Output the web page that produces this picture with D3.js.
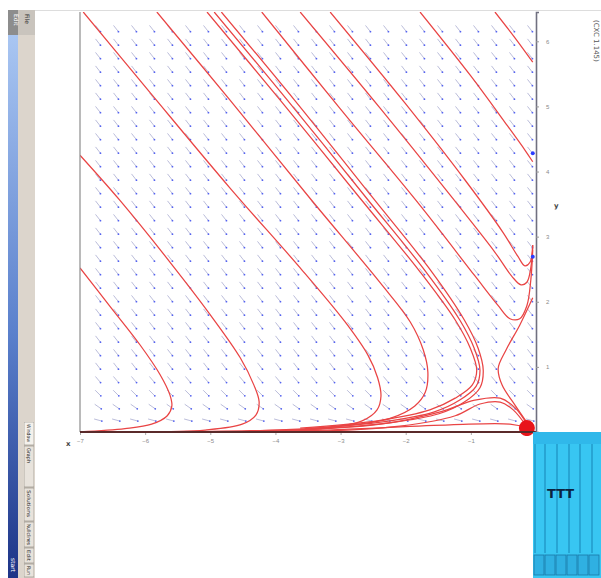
<!DOCTYPE html>
<html>
<head>
<meta charset="utf-8">
<script src="https://cdn.jsdelivr.net/npm/d3@7/dist/d3.min.js"></script>
<style>
  html, body { margin: 0; padding: 0; background: #fff; }
  svg { display: block; font-family: "DejaVu Sans", Arial, sans-serif; }
</style>
</head>
<body>
<div id="chart"></div>
<script>
// ---- phase-plane data ----
const xTicks = [-7, -6, -5, -4, -3, -2, -1];
const yTicks = [1, 2, 3, 4, 5, 6];

// direction-field grid (column / row centres) and the slope angle of each row, bottom row first
const fieldCols = d3.range(-6.724, 0, 0.2763);
const fieldRows = d3.range(0.184, 6.4, 0.2073);
const rowAngles = [15, 35, 45, 50, 52, 52, 52, 52, 52, 52, 52, 52, 52, 52, 52,
                   52, 52, 52, 52, 52, 52, 52, 52, 52, 52, 52, 52, 52, 52, 52, 52];

// solution curves [x, y]
const trajA = [[-7.00,2.52],[-6.54,1.93],[-6.08,1.34],[-5.77,0.88],[-5.62,0.57],[-5.59,0.40],[-5.66,0.25],[-5.90,0.12],[-6.31,0.05],[-7.00,0.00]];
const trajB = [[-7.00,4.25],[-6.39,3.56],[-5.62,2.61],[-5.00,1.80],[-4.54,1.14],[-4.33,0.72],[-4.25,0.46],[-4.30,0.26],[-4.51,0.12],[-5.08,0.03],[-6.08,0.00]];
const trajC = [[-6.95,6.45],[-5.93,5.22],[-4.70,3.75],[-3.62,2.52],[-2.93,1.69],[-2.58,1.18],[-2.43,0.83],[-2.38,0.55],[-2.44,0.34],[-2.67,0.17],[-3.24,0.06],[-4.39,0.02],[-5.93,0.00]];
const trajD = [[-5.82,6.45],[-4.70,5.10],[-3.47,3.59],[-2.39,2.29],[-1.93,1.69],[-1.73,1.26],[-1.66,0.92],[-1.70,0.61],[-1.86,0.40],[-2.24,0.21],[-3.01,0.09],[-4.24,0.02]];
const trajE1 = [[-5.05,6.45],[-3.93,5.10],[-2.70,3.59],[-1.78,2.46],[-1.24,1.72],[-1.01,1.29],[-0.91,0.95],[-0.98,0.72],[-1.24,0.52],[-1.63,0.34],[-2.39,0.18],[-3.62,0.06]];
const trajE2 = [[-4.94,6.45],[-3.82,5.10],[-2.60,3.59],[-1.69,2.46],[-1.17,1.72],[-0.95,1.29],[-0.86,0.95],[-0.92,0.70],[-1.17,0.49],[-1.56,0.31],[-2.32,0.16],[-3.55,0.05]];
const trajE3 = [[-4.83,6.45],[-3.71,5.10],[-2.50,3.59],[-1.60,2.46],[-1.10,1.72],[-0.89,1.29],[-0.81,0.95],[-0.86,0.68],[-1.10,0.46],[-1.49,0.28],[-2.25,0.14],[-3.48,0.04]];
const trajU1 = [[-4.21,6.45],[-3.01,4.97],[-1.78,3.48],[-0.94,2.40],[-0.58,1.94],[-0.40,1.74],[-0.25,1.74],[-0.14,1.94],[-0.08,2.33],[-0.05,2.79]];
const trajU2 = [[-3.62,6.45],[-2.39,4.97],[-1.32,3.64],[-0.63,2.76],[-0.37,2.39],[-0.23,2.26],[-0.14,2.30],[-0.08,2.52],[-0.05,2.87]];
const trajU3 = [[-3.16,6.45],[-2.01,5.05],[-1.09,3.87],[-0.51,3.07],[-0.28,2.70],[-0.17,2.55],[-0.09,2.61],[-0.05,2.87]];
const trajF1 = [[-1.78,6.45],[-1.01,5.48],[-0.48,4.76],[-0.17,4.33],[-0.05,4.15]];
const trajF2 = [[-0.63,6.45],[-0.32,6.05],[-0.05,5.68]];
const trajG = [[-0.05,2.06],[-0.25,1.64],[-0.46,1.26],[-0.58,0.98],[-0.52,0.72],[-0.32,0.41],[-0.12,0.12]];
const trajH1 = [[-3.93,0.02],[-2.39,0.12],[-1.47,0.31],[-0.94,0.49],[-0.55,0.52],[-0.32,0.37],[-0.12,0.09]];
const trajH2 = [[-3.62,0.00],[-2.09,0.09],[-1.24,0.25],[-0.86,0.43],[-0.55,0.46],[-0.35,0.34],[-0.14,0.08]];
const trajK = [[-7.00,0.00],[-3.62,0.02],[-1.32,0.11],[-0.40,0.12],[-0.12,0.06]];
const trajectories = [trajA, trajB, trajC, trajD, trajE1, trajE2, trajE3, trajU1, trajU2, trajU3, trajF1, trajF2, trajG, trajH1, trajH2, trajK];

// equilibria
const equilibria = [[-0.05, 4.28], [-0.05, 2.69]];
const sink = [-0.14, 0.06];

// ---- drawing ----
const W = 601, H = 578;
const plot = { left: 80, right: 536, top: 12, bottom: 432 };

const svg = d3.select("#chart").append("svg").attr("width", W).attr("height", H);
const defs = svg.append("defs");

const x = d3.scaleLinear().domain([-7, 0]).range([plot.left, plot.right]);
const y = d3.scaleLinear().domain([0, 6.45]).range([plot.bottom, plot.top]);

// window chrome around the plot
svg.append("line").attr("x1", 35).attr("x2", W).attr("y1", 10.5).attr("y2", 10.5).attr("stroke", "#ddd");
const grad = defs.append("linearGradient").attr("id", "bar").attr("x1", 0).attr("x2", 0).attr("y1", 0).attr("y2", 1);
grad.append("stop").attr("offset", "0%").attr("stop-color", "#a9c6f2");
grad.append("stop").attr("offset", "55%").attr("stop-color", "#5a80cc");
grad.append("stop").attr("offset", "100%").attr("stop-color", "#1d3487");
svg.append("rect").attr("x", 8).attr("y", 35).attr("width", 10).attr("height", H - 35).attr("fill", "url(#bar)");
svg.append("rect").attr("x", 18).attr("y", 10).attr("width", 17).attr("height", H - 10).attr("fill", "#dcd5cc");
svg.append("rect").attr("x", 8).attr("y", 10).attr("width", 10).attr("height", 25).attr("fill", "#8d8d8d");
svg.append("rect").attr("x", 18).attr("y", 10).attr("width", 17).attr("height", 25).attr("fill", "#c9c4bd");
svg.append("text").attr("transform", "translate(14,14) rotate(90)").attr("font-size", 6).attr("fill", "#fff").text("Edit");
svg.append("text").attr("transform", "translate(25,14) rotate(90)").attr("font-size", 6).attr("fill", "#333").text("File");

// tab strip at the bottom of the left bar
const tabs = ["Window", "Graph", "Solutions", "Nullclines", "Edit", "Run"];
const tabY = [422, 446, 488, 522, 548, 564, 578];
defs.append("clipPath").attr("id", "tabclip").append("rect").attr("x", 24).attr("y", 422).attr("width", 10).attr("height", 156);
const tabG = svg.append("g").attr("clip-path", "url(#tabclip)");
tabs.forEach((t, i) => {
  const h = tabY[i + 1] - tabY[i] - 1;
  tabG.append("rect").attr("x", 24).attr("y", tabY[i]).attr("width", 10).attr("height", h)
    .attr("fill", i === 0 ? "#f4f1ec" : "#e8e3dc").attr("stroke", "#8a857e").attr("stroke-width", 0.6);
  tabG.append("text").attr("transform", `translate(27,${tabY[i] + 2}) rotate(90)`).attr("font-size", 5).attr("fill", "#222")
    .attr("textLength", Math.min(h - 4, t.length * 3)).attr("lengthAdjust", "spacingAndGlyphs").text(t);
});
svg.append("text").attr("transform", "translate(11,558) rotate(90)").attr("font-size", 6).attr("fill", "#fff").text("start");

// clip for the phase plane
defs.append("clipPath").attr("id", "plotclip").append("rect")
  .attr("x", plot.left).attr("y", plot.top).attr("width", plot.right - plot.left).attr("height", plot.bottom - plot.top + 4);

const g = svg.append("g").attr("clip-path", "url(#plotclip)");

// direction field
const arrowLen = 8;
fieldRows.forEach((ry, j) => {
  const a = (rowAngles[j] ?? 52) * Math.PI / 180;
  fieldCols.forEach(cx => {
    const px = x(cx), py = y(ry);
    const dx = Math.cos(a) * arrowLen / 2, dy = Math.sin(a) * arrowLen / 2;
    g.append("line").attr("x1", px - dx).attr("y1", py - dy).attr("x2", px + dx).attr("y2", py + dy)
      .attr("stroke", "#b3b6d6").attr("stroke-width", 0.9);
    g.append("circle").attr("cx", px + dx).attr("cy", py + dy).attr("r", 0.9).attr("fill", "#5563f0");
  });
});

// solution curves
const line = d3.line().x(d => x(d[0])).y(d => y(d[1])).curve(d3.curveCatmullRom.alpha(0.5));
g.selectAll("path.traj").data(trajectories).join("path").attr("class", "traj")
  .attr("d", line).attr("fill", "none").attr("stroke", "#e94444").attr("stroke-width", 1.25);

g.selectAll("circle.eq").data(equilibria).join("circle").attr("class", "eq")
  .attr("cx", d => x(d[0])).attr("cy", d => y(d[1])).attr("r", 2).attr("fill", "#2a3cff");
g.append("circle").attr("cx", x(sink[0])).attr("cy", y(sink[1])).attr("r", 8).attr("fill", "#e8141a");

// frame
svg.append("line").attr("x1", plot.left).attr("x2", plot.left).attr("y1", plot.top).attr("y2", plot.bottom)
  .attr("stroke", "#8c8c8c").attr("stroke-width", 1.2);
svg.append("line").attr("x1", plot.left).attr("x2", plot.right).attr("y1", plot.bottom).attr("y2", plot.bottom)
  .attr("stroke", "#5a2a2a").attr("stroke-width", 2);

// axes
const xAxis = d3.axisBottom(x).tickValues(xTicks).tickSize(2).tickFormat(d3.format("d"));
const gx = svg.append("g").attr("transform", `translate(0,${plot.bottom + 1})`).call(xAxis);
gx.select(".domain").remove();
gx.selectAll("text").attr("font-size", 6).attr("fill", "#8a8a8a").attr("dy", "0.9em");
gx.selectAll("line").attr("stroke", "#aaa");

const yAxis = d3.axisRight(y).tickValues(yTicks).tickSize(3).tickFormat(d3.format("d"));
const gy = svg.append("g").attr("transform", `translate(${plot.right},0)`).call(yAxis);
gy.select(".domain").attr("stroke", "#707080").attr("stroke-width", 1.6);
gy.selectAll("text").attr("font-size", 6).attr("fill", "#8a8a8a").attr("x", 10);
gy.selectAll("line").attr("stroke", "#999");

svg.append("text").attr("x", 66).attr("y", 446).attr("font-size", 7).attr("font-weight", "bold").attr("fill", "#444").text("x");
svg.append("text").attr("x", 554).attr("y", 208).attr("font-size", 7).attr("font-weight", "bold").attr("fill", "#444").text("y");
svg.append("text").attr("transform", "translate(594,20) rotate(90)").attr("font-size", 7).attr("fill", "#555").text("(CXC 1.145)");

// tool panel at the lower right
svg.append("rect").attr("x", 533).attr("y", 432).attr("width", W - 533).attr("height", H - 432).attr("fill", "#38c6f2");
[535, 545, 557, 569, 580, 592].forEach(lx => {
  svg.append("line").attr("x1", lx).attr("x2", lx).attr("y1", 444).attr("y2", 553).attr("stroke", "#1d8fc0").attr("stroke-width", 1.2);
});
svg.append("rect").attr("x", 533).attr("y", 432).attr("width", W - 533).attr("height", 12).attr("fill", "#30b8ea");
svg.append("text").attr("x", 547).attr("y", 498).attr("font-size", 13).attr("font-weight", "bold").attr("fill", "#0b2340").text("TTT");
d3.range(6).forEach(i => {
  svg.append("rect").attr("x", 534 + i * 11).attr("y", 555).attr("width", 10).attr("height", 20)
    .attr("fill", "#2fb0e2").attr("stroke", "#1a78a8").attr("stroke-width", 0.8);
});
</script>
</body>
</html>
